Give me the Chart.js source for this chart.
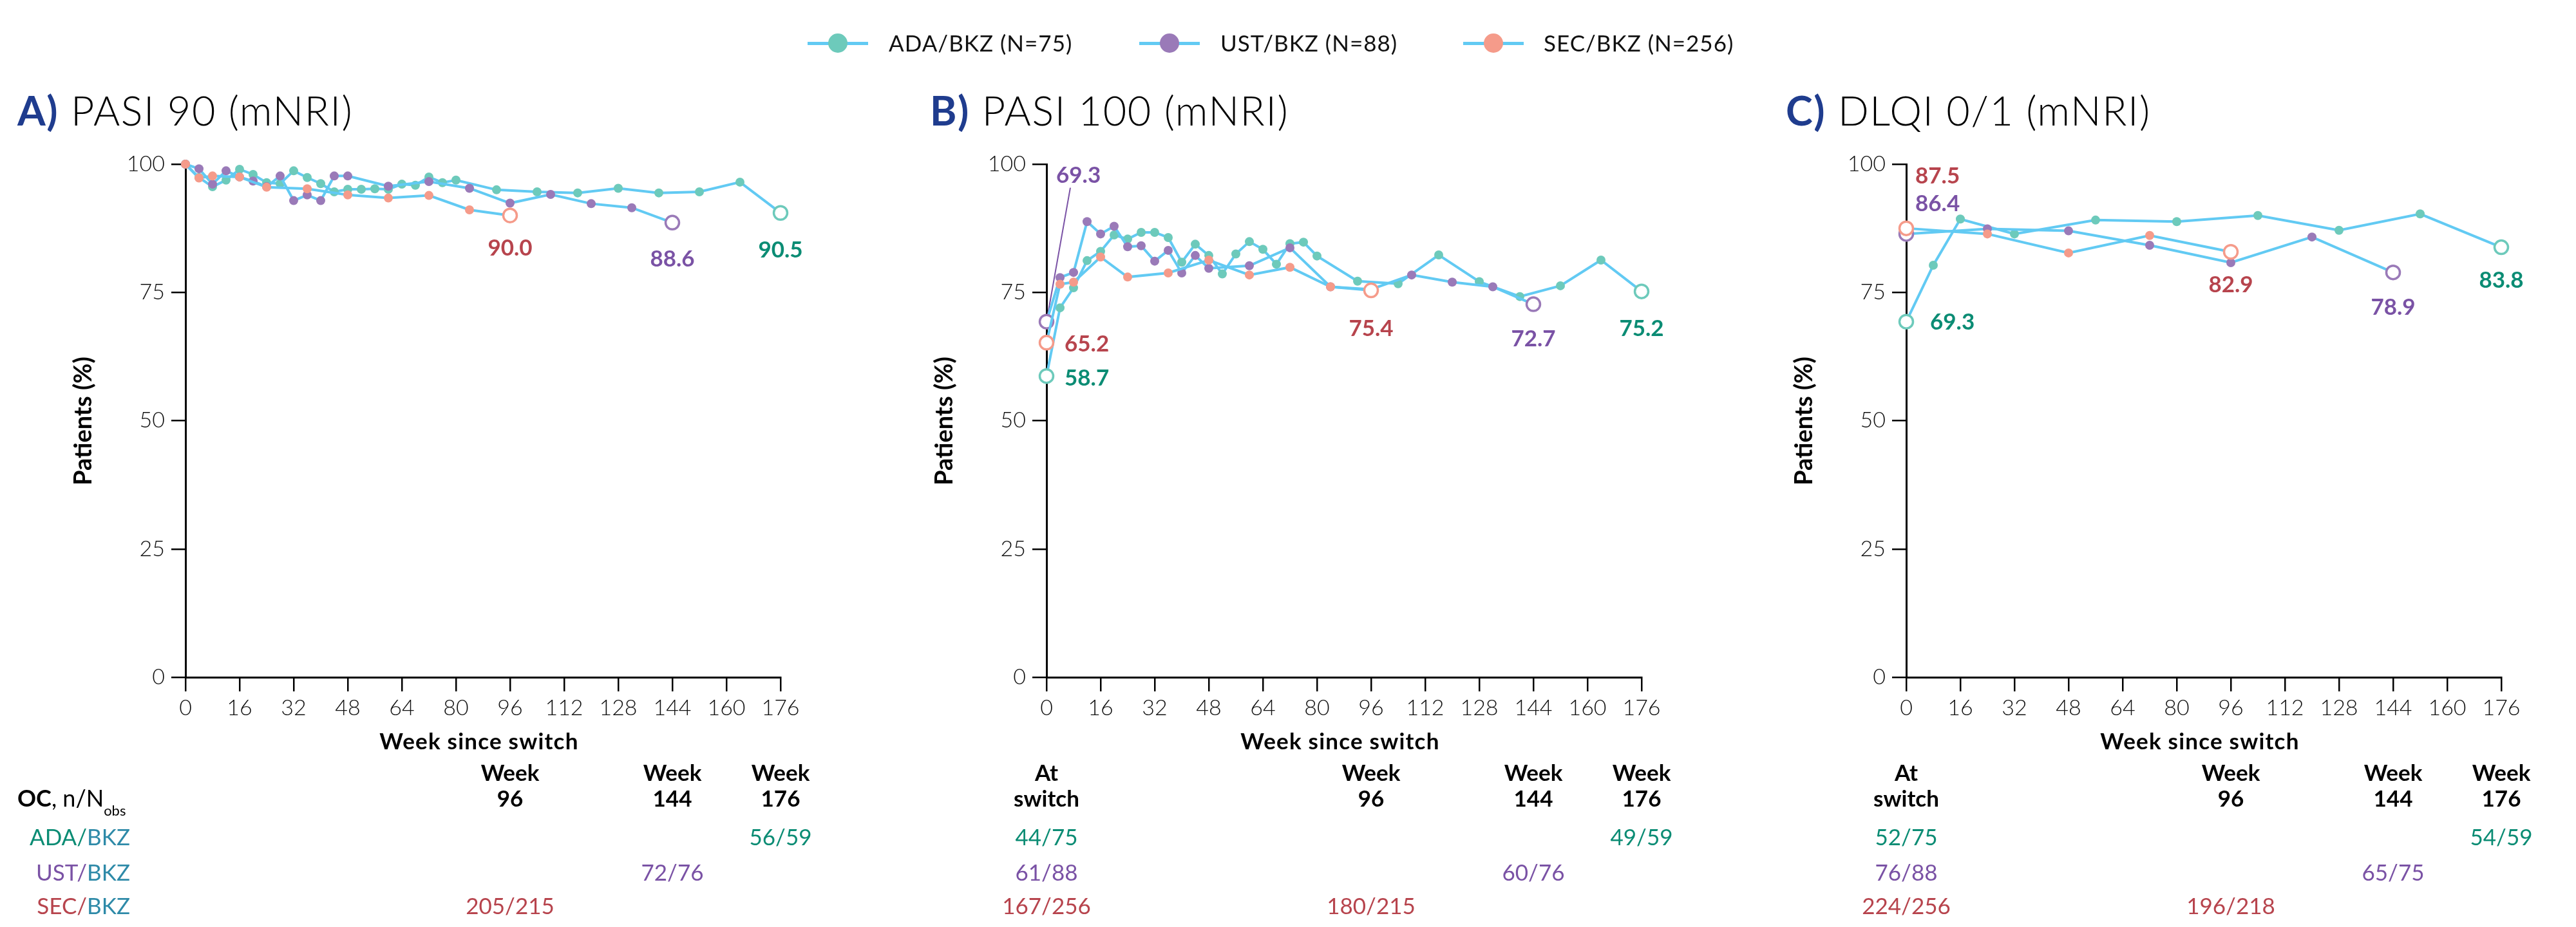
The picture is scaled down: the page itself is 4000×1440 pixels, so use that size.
<!DOCTYPE html>
<html><head><meta charset="utf-8">
<script src="https://cdn.jsdelivr.net/npm/chart.js@4.4.1/dist/chart.umd.min.js"></script>
<style>
html,body{margin:0;padding:0;background:#fff;}
body{width:4000px;height:1440px;position:relative;overflow:hidden;font-family:Lato,'Open Sans',sans-serif;}
canvas{position:absolute;top:0;}
.t{position:absolute;white-space:nowrap;}
</style></head><body>
<canvas id="cA" width="1335" height="1440"></canvas>
<canvas id="cB" width="1335" height="1440"></canvas>
<canvas id="cC" width="1335" height="1440"></canvas>
<script>
// ---------------- DATA ----------------
const SERIES = ['ADA', 'UST', 'SEC'];
const LEGEND_LABELS = ['ADA/BKZ (N=75)', 'UST/BKZ (N=88)', 'SEC/BKZ (N=256)'];
const X_TICK_STEP = 16;           // 0,16,...,176
const Y_TICK_STEP = 25;           // 0,25,...,100

const ADA_WEEKS_PASI = [0,4,8,12,16,20,24,28,32,36,40,44,48,52,56,60,64,68,72,76,80,92,104,116,128,140,152,164,176];
const ADA_PASI90  = [100,97.4,95.6,96.9,99.0,98.0,96.4,96.2,98.7,97.4,96.2,94.6,95.1,95.1,95.2,95.1,96.1,95.9,97.5,96.4,96.9,95.0,94.6,94.4,95.3,94.4,94.6,96.5,90.5];
const ADA_PASI100 = [58.7,72.0,75.9,81.2,83.0,86.2,85.4,86.7,86.7,85.7,80.9,84.4,82.2,78.6,82.5,84.9,83.4,80.5,84.5,84.8,82.1,77.2,76.7,82.3,77.1,74.2,76.3,81.3,75.2];

const UST_WEEKS_PASI = [0,4,8,12,16,20,24,28,32,36,40,44,48,60,72,84,96,108,120,132,144];
const UST_PASI90  = [100,99.1,96.1,98.7,97.5,96.7,95.6,97.7,92.9,94.0,92.9,97.7,97.7,95.7,96.6,95.3,92.4,94.1,92.3,91.5,88.6];
const UST_PASI100 = [69.3,77.9,78.9,88.8,86.4,87.9,83.9,84.1,81.1,83.2,78.8,82.2,79.7,80.2,83.7,76.1,75.6,78.4,77.0,76.1,72.7];

const SEC_WEEKS_PASI = [0,4,8,16,24,36,48,60,72,84,96];
const SEC_PASI90  = [100,97.3,97.7,97.5,95.5,95.2,94.0,93.4,93.9,91.1,90.0];
const SEC_PASI100 = [65.2,76.6,77.0,81.9,78.0,78.8,81.3,78.4,79.9,76.1,75.4];

const ADA_WEEKS_DLQI = [0,8,16,32,56,80,104,128,152,176];
const ADA_DLQI = [69.3,80.3,89.3,86.4,89.1,88.8,90.0,87.1,90.3,83.8];
const UST_WEEKS_DLQI = [0,24,48,72,96,120,144];
const UST_DLQI = [86.4,87.4,87.0,84.2,80.8,85.8,78.9];
const SEC_WEEKS_DLQI = [0,24,48,72,96];
const SEC_DLQI = [87.5,86.4,82.7,86.1,82.9];

// OC, n/Nobs tables: [series, week, text]
const OC_HEAD_A = [[96,'Week','96'],[144,'Week','144'],[176,'Week','176']];
const OC_A = [['ADA',176,'56/59'],['UST',144,'72/76'],['SEC',96,'205/215']];
const OC_HEAD_B = [[0,'At','switch'],[96,'Week','96'],[144,'Week','144'],[176,'Week','176']];
const OC_B = [['ADA',0,'44/75'],['ADA',176,'49/59'],['UST',0,'61/88'],['UST',144,'60/76'],['SEC',0,'167/256'],['SEC',96,'180/215']];
const OC_HEAD_C = [[0,'At','switch'],[96,'Week','96'],[144,'Week','144'],[176,'Week','176']];
const OC_C = [['ADA',0,'52/75'],['ADA',176,'54/59'],['UST',0,'76/88'],['UST',144,'65/75'],['SEC',0,'224/256'],['SEC',96,'196/218']];

// ---------------- STYLE ----------------
const LINE_COLOR = '#62CAF3';
const MARK = {ADA:'#6DCABB', UST:'#9A7AB8', SEC:'#F59B8A'};
const TXT = {ADA:'#0B8C74', UST:'#7A52A5', SEC:'#B7444D', BKZ:'#2E8AA8', letter:'#1F3C8E'};
const ORDER = {SEC:0, UST:1, ADA:2};
const PLOT_TOP = 255, PLOT_BOTTOM = 1052, PLOT_W = 924, CAN_W = 1335, AXIS_OFF = 290;

const PANELS = [
  { canvas:'cA', plotLeft:288, letter:'A)', title:'PASI 90 (mNRI)', titleLeft:27, openFirst:false,
    data:{ADA:[ADA_WEEKS_PASI,ADA_PASI90], UST:[UST_WEEKS_PASI,UST_PASI90], SEC:[SEC_WEEKS_PASI,SEC_PASI90]},
    labels:[{s:'SEC',last:true,dx:0,dy:50,al:'center'},{s:'UST',last:true,dx:0,dy:56,al:'center'},{s:'ADA',last:true,dx:0,dy:57,al:'center'}],
    head:OC_HEAD_A, oc:OC_A },
  { canvas:'cB', plotLeft:1625, letter:'B)', title:'PASI 100 (mNRI)', titleLeft:1444, openFirst:true,
    data:{ADA:[ADA_WEEKS_PASI,ADA_PASI100], UST:[UST_WEEKS_PASI,UST_PASI100], SEC:[SEC_WEEKS_PASI,SEC_PASI100]},
    labels:[{s:'UST',last:false,dx:15,dy:-228,al:'left',leader:[37,-208]},{s:'SEC',last:false,dx:28,dy:1,al:'left'},{s:'ADA',last:false,dx:28,dy:2,al:'left'},
            {s:'SEC',last:true,dx:0,dy:58,al:'center'},{s:'UST',last:true,dx:0,dy:53,al:'center'},{s:'ADA',last:true,dx:0,dy:57,al:'center'}],
    head:OC_HEAD_B, oc:OC_B },
  { canvas:'cC', plotLeft:2960, letter:'C)', title:'DLQI 0/1 (mNRI)', titleLeft:2773, openFirst:true,
    data:{ADA:[ADA_WEEKS_DLQI,ADA_DLQI], UST:[UST_WEEKS_DLQI,UST_DLQI], SEC:[SEC_WEEKS_DLQI,SEC_DLQI]},
    labels:[{s:'SEC',last:false,dx:14,dy:-82,al:'left'},{s:'UST',last:false,dx:14,dy:-48,al:'left'},{s:'ADA',last:false,dx:37,dy:0,al:'left'},
            {s:'SEC',last:true,dx:0,dy:50,al:'center'},{s:'UST',last:true,dx:0,dy:53,al:'center'},{s:'ADA',last:true,dx:0,dy:50,al:'center'}],
    head:OC_HEAD_C, oc:OC_C }
];

// ---------------- TEXT HELPERS ----------------
const MC = document.createElement('canvas').getContext('2d');
function fm(font){ MC.font = font; const m = MC.measureText('Hg'); return [m.fontBoundingBoxAscent, m.fontBoundingBoxDescent]; }
function text(x, base, html, o){
  o = o || {};
  const font = `${o.weight||400} ${o.size||35}px Lato, 'Open Sans', sans-serif`;
  const [a,d] = fm(font);
  const el = document.createElement('div');
  el.className = 't';
  el.style.font = font; el.style.lineHeight = (a+d)+'px';
  el.style.top = (base - a)+'px'; el.style.left = x+'px';
  el.style.color = o.color || '#000';
  if (o.ls) el.style.letterSpacing = o.ls + 'px';
  if (o.al === 'center') el.style.transform = 'translateX(-50%)';
  else if (o.al === 'right') el.style.transform = 'translateX(-100%)';
  el.innerHTML = html;
  document.body.appendChild(el);
  return el;
}

// ---------------- CHARTS ----------------
const tickFont = {family:"Lato, 'Open Sans', sans-serif", size:34, weight:300};
PANELS.forEach(p => {
  const canvasLeft = p.plotLeft - AXIS_OFF;
  const cv = document.getElementById(p.canvas);
  cv.style.left = canvasLeft + 'px';
  const datasets = SERIES.map(s => {
    const [wk, val] = p.data[s];
    const n = wk.length;
    const isOpen = i => (i === n-1) || (p.openFirst && i === 0);
    return {
      label: s, order: ORDER[s], clip: false,
      data: wk.map((w,i) => ({x:w, y:val[i]})),
      borderColor: LINE_COLOR, borderWidth: 4, tension: 0,
      pointRadius: c => isOpen(c.dataIndex) ? 10.5 : 7,
      pointBackgroundColor: c => isOpen(c.dataIndex) ? '#fff' : MARK[s],
      pointBorderColor: MARK[s],
      pointBorderWidth: c => isOpen(c.dataIndex) ? 3.5 : 0
    };
  });
  const leaders = p.labels.filter(l => l.leader);
  const leaderPlugin = {
    id: 'leader'+p.canvas,
    beforeDatasetsDraw(chart){
      const ctx = chart.ctx;
      leaders.forEach(l => {
        const di = SERIES.indexOf(l.s);
        const meta = chart.getDatasetMeta(di);
        const pt = meta.data[l.last ? meta.data.length-1 : 0];
        ctx.save(); ctx.strokeStyle = TXT[l.s]; ctx.lineWidth = 2;
        ctx.beginPath(); ctx.moveTo(pt.x, pt.y); ctx.lineTo(pt.x + l.leader[0], pt.y + l.leader[1]); ctx.stroke();
        ctx.restore();
      });
    }
  };
  const axisCommon = {
    grid:{drawOnChartArea:false, drawTicks:true, tickLength:22, color:'#000', lineWidth:2.5},
    border:{display:true, color:'#000', width:3},
  };
  const chart = new Chart(cv, {
    type:'line',
    data:{datasets},
    plugins:[leaderPlugin],
    options:{
      responsive:false, animation:false, devicePixelRatio:1,
      layout:{padding:{left:AXIS_OFF-100, right:CAN_W-AXIS_OFF-PLOT_W, top:PLOT_TOP, bottom:1440-PLOT_BOTTOM-100}},
      plugins:{legend:{display:false}, tooltip:{enabled:false}},
      scales:{
        x:Object.assign({type:'linear', min:0, max:176,
          ticks:{stepSize:X_TICK_STEP, autoSkip:false, maxRotation:0, font:tickFont, color:'#111', padding:6},
          afterFit(s){ s.height = 100; }}, axisCommon),
        y:Object.assign({min:0, max:100,
          ticks:{stepSize:Y_TICK_STEP, font:tickFont, color:'#111', padding:10},
          afterFit(s){ s.width = 100; }}, axisCommon)
      }
    }
  });

  // ----- overlay text positioned from the chart's scales -----
  const xs = chart.scales.x, ys = chart.scales.y, area = chart.chartArea;
  const X = w => canvasLeft + xs.getPixelForValue(w);
  const Y = v => ys.getPixelForValue(v);

  // title
  text(p.titleLeft, 195, `<span style="font-weight:700;color:${TXT.letter}">${p.letter}</span> ${p.title}`, {size:63, weight:300, ls:1.6});
  // y axis title
  const yt = text(0, 0, 'Patients (%)', {size:38, weight:700});
  yt.style.left = (canvasLeft + area.left - 161)+'px';
  yt.style.top = ((area.top+area.bottom)/2)+'px';
  yt.style.transform = 'translate(-50%,-50%) rotate(-90deg)';
  // x axis title
  text(canvasLeft + (area.left+area.right)/2 - 6, 1164, 'Week since switch', {size:35, weight:700, al:'center', ls:1.2});

  // value labels
  p.labels.forEach(l => {
    const [wk, val] = p.data[l.s];
    const i = l.last ? wk.length-1 : 0;
    const px = X(wk[i]), py = Y(val[i]);
    text(px + l.dx, py + l.dy + 12.5, val[i].toFixed(1), {size:35, weight:700, color:TXT[l.s], al:l.al});
  });

  // OC table
  p.head.forEach(([w,a,b]) => {
    text(X(w), 1213, a, {size:35, weight:700, al:'center'});
    text(X(w), 1253, b, {size:35, weight:700, al:'center'});
  });
  const rowBase = {ADA:1313, UST:1368, SEC:1420};
  p.oc.forEach(([s,w,t]) => text(X(w), rowBase[s], t, {size:35, color:TXT[s], al:'center'}));
});

// table row headers
text(27, 1253, '<b>OC</b>, n/N<span style="font-size:22px;vertical-align:-14px">obs</span>', {size:36});
const ROW_BASE = [1313, 1368, 1420];
SERIES.forEach((s,i) => text(202, ROW_BASE[i], `<span style="color:${TXT[s]}">${s}/</span><span style="color:${TXT.BKZ}">BKZ</span>`, {size:35, al:'right'}));

// legend
const LEG_MARK_X = [1301, 1816, 2319], LEG_TEXT_X = [1380, 1895, 2397], LEG_Y = 67;
SERIES.forEach((s,i) => {
  const ln = document.createElement('div');
  ln.style.cssText = `position:absolute;left:${LEG_MARK_X[i]-47}px;top:${LEG_Y-2.5}px;width:94px;height:5px;background:${LINE_COLOR}`;
  document.body.appendChild(ln);
  const mk = document.createElement('div');
  mk.style.cssText = `position:absolute;left:${LEG_MARK_X[i]-15}px;top:${LEG_Y-15}px;width:30px;height:30px;border-radius:50%;background:${MARK[s]}`;
  document.body.appendChild(mk);
  text(LEG_TEXT_X[i], LEG_Y + 12.5, LEGEND_LABELS[i], {size:35, color:'#111', ls:1.0});
});
</script>
</body></html>
